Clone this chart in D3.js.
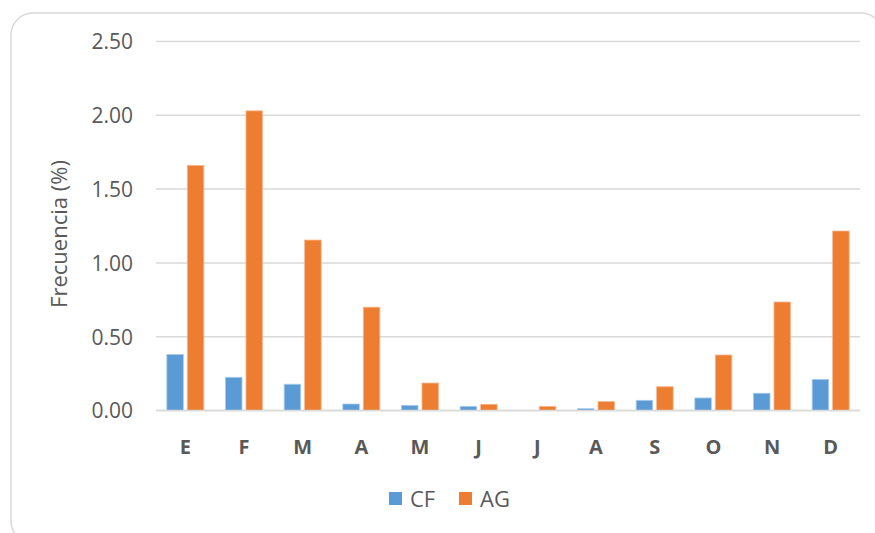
<!DOCTYPE html>
<html>
<head>
<meta charset="utf-8">
<script src="https://cdn.jsdelivr.net/npm/d3@7"></script>
<style>
  html, body { margin: 0; padding: 0; background: #fff; }
  svg { display: block; font-family: "Open Sans", "Noto Sans", sans-serif; }
</style>
</head>
<body>
<svg id="chart" width="875" height="533"></svg>
<script>
// Monthly frequency (%) per series
const months = ["E", "F", "M", "A", "M", "J", "J", "A", "S", "O", "N", "D"];
const seriesNames = ["CF", "AG"];
const cfValues = [0.38, 0.225, 0.178, 0.044, 0.035, 0.028, 0.0, 0.012, 0.069, 0.085, 0.117, 0.211];
const agValues = [1.66, 2.03, 1.155, 0.70, 0.186, 0.042, 0.028, 0.06, 0.161, 0.376, 0.735, 1.216];
const yTicks = [0, 0.5, 1.0, 1.5, 2.0, 2.5];
const colors = ["#5B9BD5", "#ED7D31"];

const svg = d3.select("#chart");
const plot = { left: 156, right: 860, top: 41.5, bottom: 410.5 };

// Outer rounded frame
svg.append("rect")
  .attr("x", 11).attr("y", 13)
  .attr("width", 872).attr("height", 530)
  .attr("rx", 22).attr("ry", 22)
  .attr("fill", "#fff")
  .attr("stroke", "#d9d9d9").attr("stroke-width", 1.5);

const x = d3.scaleBand()
  .domain(d3.range(months.length))
  .range([plot.left, plot.right])
  .paddingInner(0).paddingOuter(0);

const y = d3.scaleLinear()
  .domain([0, 2.5])
  .range([plot.bottom, plot.top]);

// Horizontal gridlines
svg.append("g")
  .selectAll("line")
  .data(yTicks)
  .join("line")
  .attr("x1", plot.left).attr("x2", plot.right)
  .attr("y1", d => y(d)).attr("y2", d => y(d))
  .attr("stroke", "#d9d9d9").attr("stroke-width", 1.5);

// Y axis tick labels
const yAxis = d3.axisLeft(y).tickValues(yTicks).tickFormat(d3.format(".2f")).tickSize(0).tickPadding(0);
const gy = svg.append("g").attr("transform", `translate(133,0)`).call(yAxis);
gy.select(".domain").remove();
gy.selectAll("text")
  .attr("fill", "#595959")
  .style("font-size", "21px")
  .style("font-family", "'Open Sans', sans-serif")
  .attr("dy", "0.35em");

// Y axis title
svg.append("text")
  .attr("transform", `translate(67,${(plot.top + plot.bottom) / 2 + 8}) rotate(-90)`)
  .attr("text-anchor", "middle")
  .attr("fill", "#595959")
  .style("font-size", "22px")
  .text("Frecuencia (%)");

// Bars
const barW = 16.5, barGap = 4;
const data = months.map((m, i) => ({ i, values: [cfValues[i], agValues[i]] }));
const groups = svg.append("g").selectAll("g")
  .data(data)
  .join("g")
  .attr("transform", d => `translate(${x(d.i) + x.bandwidth() / 2},0)`);

groups.selectAll("rect")
  .data(d => d.values.map((v, k) => ({ v, k })))
  .join("rect")
  .attr("x", d => d.k === 0 ? -barGap / 2 - barW : barGap / 2)
  .attr("width", barW)
  .attr("y", d => y(d.v))
  .attr("height", d => Math.max(0, y(0) - y(d.v)))
  .attr("fill", d => colors[d.k])
  .attr("stroke", d => d.k === 0 ? "#a9cbeb" : "#f5b58c")
  .attr("stroke-width", 0.8);

// Baseline
svg.append("line")
  .attr("x1", plot.left).attr("x2", plot.right)
  .attr("y1", y(0)).attr("y2", y(0))
  .attr("stroke", "#d9d9d9").attr("stroke-width", 1.5);

// X axis labels
const xAxis = d3.axisBottom(x).tickFormat(i => months[i]).tickSize(0).tickPadding(0);
const gx = svg.append("g").attr("transform", `translate(0,${plot.bottom + 36})`).call(xAxis);
gx.select(".domain").remove();
gx.selectAll("text")
  .attr("fill", "#595959")
  .attr("dy", "0.35em")
  .style("font-size", "20px")
  .style("font-weight", "bold")
  .style("font-family", "'Open Sans', sans-serif");

// Legend
const legendItems = [
  { name: seriesNames[0], color: colors[0], sx: 389, tx: 410 },
  { name: seriesNames[1], color: colors[1], sx: 459, tx: 480 }
];
const lg = svg.append("g");
lg.selectAll("rect")
  .data(legendItems)
  .join("rect")
  .attr("x", d => d.sx).attr("y", 492)
  .attr("width", 13).attr("height", 13)
  .attr("fill", d => d.color);
lg.selectAll("text")
  .data(legendItems)
  .join("text")
  .attr("x", d => d.tx).attr("y", 499)
  .attr("dy", "0.35em")
  .attr("fill", "#595959")
  .style("font-size", "22px")
  .text(d => d.name);
</script>
</body>
</html>
